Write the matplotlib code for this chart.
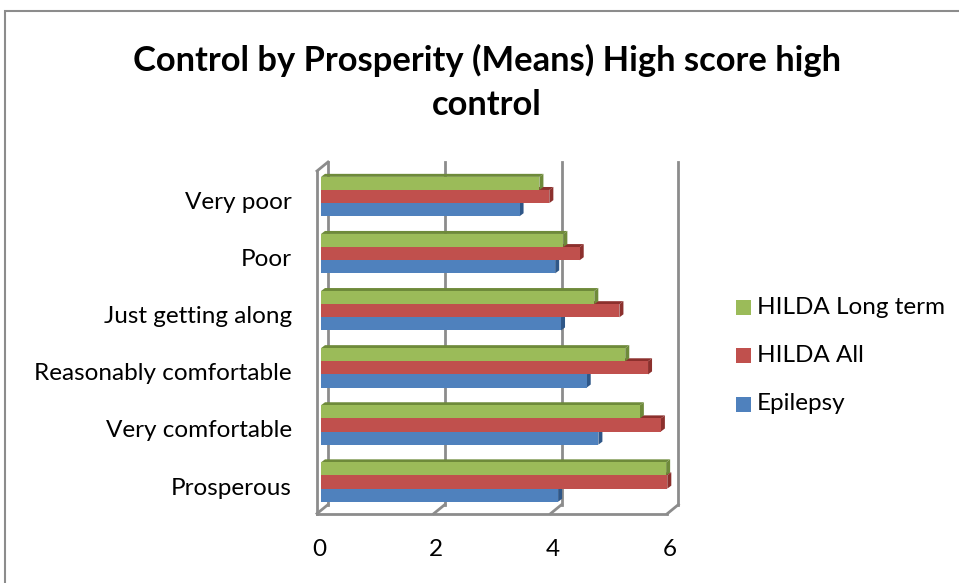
import matplotlib.pyplot as plt
import matplotlib.transforms as mtransforms
from matplotlib.patches import Polygon, Rectangle

plt.rcParams['font.family'] = ['Lato', 'DejaVu Sans']

# Data
categories = ["Prosperous", "Very comfortable", "Reasonably comfortable",
              "Just getting along", "Poor", "Very poor"]
series_names = ["HILDA Long term", "HILDA All", "Epilepsy"]
hilda_long = [5.91, 5.46, 5.21, 4.68, 4.15, 3.74]
hilda_all = [5.93, 5.82, 5.60, 5.11, 4.43, 3.91]
epilepsy = [4.06, 4.75, 4.55, 4.11, 4.01, 3.40]
x_ticks = [0, 2, 4, 6]

colors = ["#9BBB59", "#C0504D", "#4F81BD"]
side_colors = ["#6E8A3A", "#8C302D", "#2F5788"]
grid_col = "#8C8C8C"

W, H = 959, 583
fig = plt.figure(figsize=(W / 100, H / 100), dpi=100)
ax = fig.add_axes([321 / W, (H - 510.6) / H, 350.4 / W, 342.6 / H])
ax.set_xlim(0, 6)
ax.set_ylim(-0.5, 5.5)
ax.axis("off")

# 3-D planes: front of floor/wall and back wall, shifted in pixels
front = mtransforms.offset_copy(ax.transData, fig, x=-4, y=-3, units="dots")
back = mtransforms.offset_copy(ax.transData, fig, x=7, y=6, units="dots")

# back wall gridlines
for v in x_ticks:
    ax.plot([v, v], [-0.5, 5.5], color=grid_col, lw=2, transform=back,
            zorder=1, clip_on=False)
# left wall
ax.plot([0, 0], [-0.5, 5.5], color=grid_col, lw=2, transform=front,
        zorder=1, clip_on=False)
# floor front edge
ax.plot([0, 6], [-0.5, -0.5], color=grid_col, lw=2, transform=front,
        zorder=5, clip_on=False)

# connectors between front and back planes
def connect(v, y):
    p0 = front.transform((v, y))
    p1 = back.transform((v, y))
    fig.add_artist(plt.Line2D([p0[0] / W, p1[0] / W], [p0[1] / H, p1[1] / H],
                              color=grid_col, lw=2, zorder=5))

for v in x_ticks:
    connect(v, -0.5)
connect(0, 5.5)

# bars with a dark side face and top face
bh = 0.23
ddx = 4 / 58.4
ddy = 3 / 57.1
for k, vals in enumerate([hilda_long, hilda_all, epilepsy]):
    off = (1 - k) * bh
    for i, v in enumerate(vals):
        y0 = i + off - bh / 2
        y1 = i + off + bh / 2
        ax.add_patch(Polygon([(v, y0), (v + ddx, y0 + ddy), (v + ddx, y1 + ddy), (v, y1)],
                             closed=True, facecolor=side_colors[k], edgecolor="none",
                             zorder=3, clip_on=False))
        ax.add_patch(Polygon([(0, y1), (ddx, y1 + ddy), (v + ddx, y1 + ddy), (v, y1)],
                             closed=True, facecolor=side_colors[k], edgecolor="none",
                             zorder=2, clip_on=False))
    ax.barh([i + off for i in range(len(vals))], vals, height=bh,
            color=colors[k], edgecolor="none", zorder=4)

fs = 17.5

# tick labels
lbl_x = mtransforms.offset_copy(ax.transData, fig, x=-2, y=-39, units="dots")
for v in x_ticks:
    ax.text(v, -0.5, str(v), transform=lbl_x, ha="center", va="center", fontsize=fs)
lbl_y = mtransforms.offset_copy(ax.transData, fig, x=-29, y=-6, units="dots")
for i, c in enumerate(categories):
    ax.text(0, i, c, transform=lbl_y, ha="right", va="center", fontsize=fs)

# legend
for k, name in enumerate(series_names):
    yc = (H - (307 + 48.5 * k)) / H
    fig.add_artist(Rectangle((736 / W, yc - 7.5 / H), 15 / W, 15 / H,
                             facecolor=colors[k], edgecolor="none"))
    fig.text(757 / W, yc, name, ha="left", va="center", fontsize=fs)

# title
fig.text(487 / W, (H - 60) / H, "Control by Prosperity (Means) High score high",
         ha="center", va="center", fontsize=24.8, fontweight="bold")
fig.text(487 / W, (H - 105) / H, "control",
         ha="center", va="center", fontsize=24.8, fontweight="bold")

# chart area border
fig.add_artist(Rectangle((4.5 / W, -0.1), 1.2, (H - 11) / H + 0.1,
                         facecolor="none", edgecolor="#8C8C8C", lw=1.5))

fig.savefig("out.png", dpi=100)
